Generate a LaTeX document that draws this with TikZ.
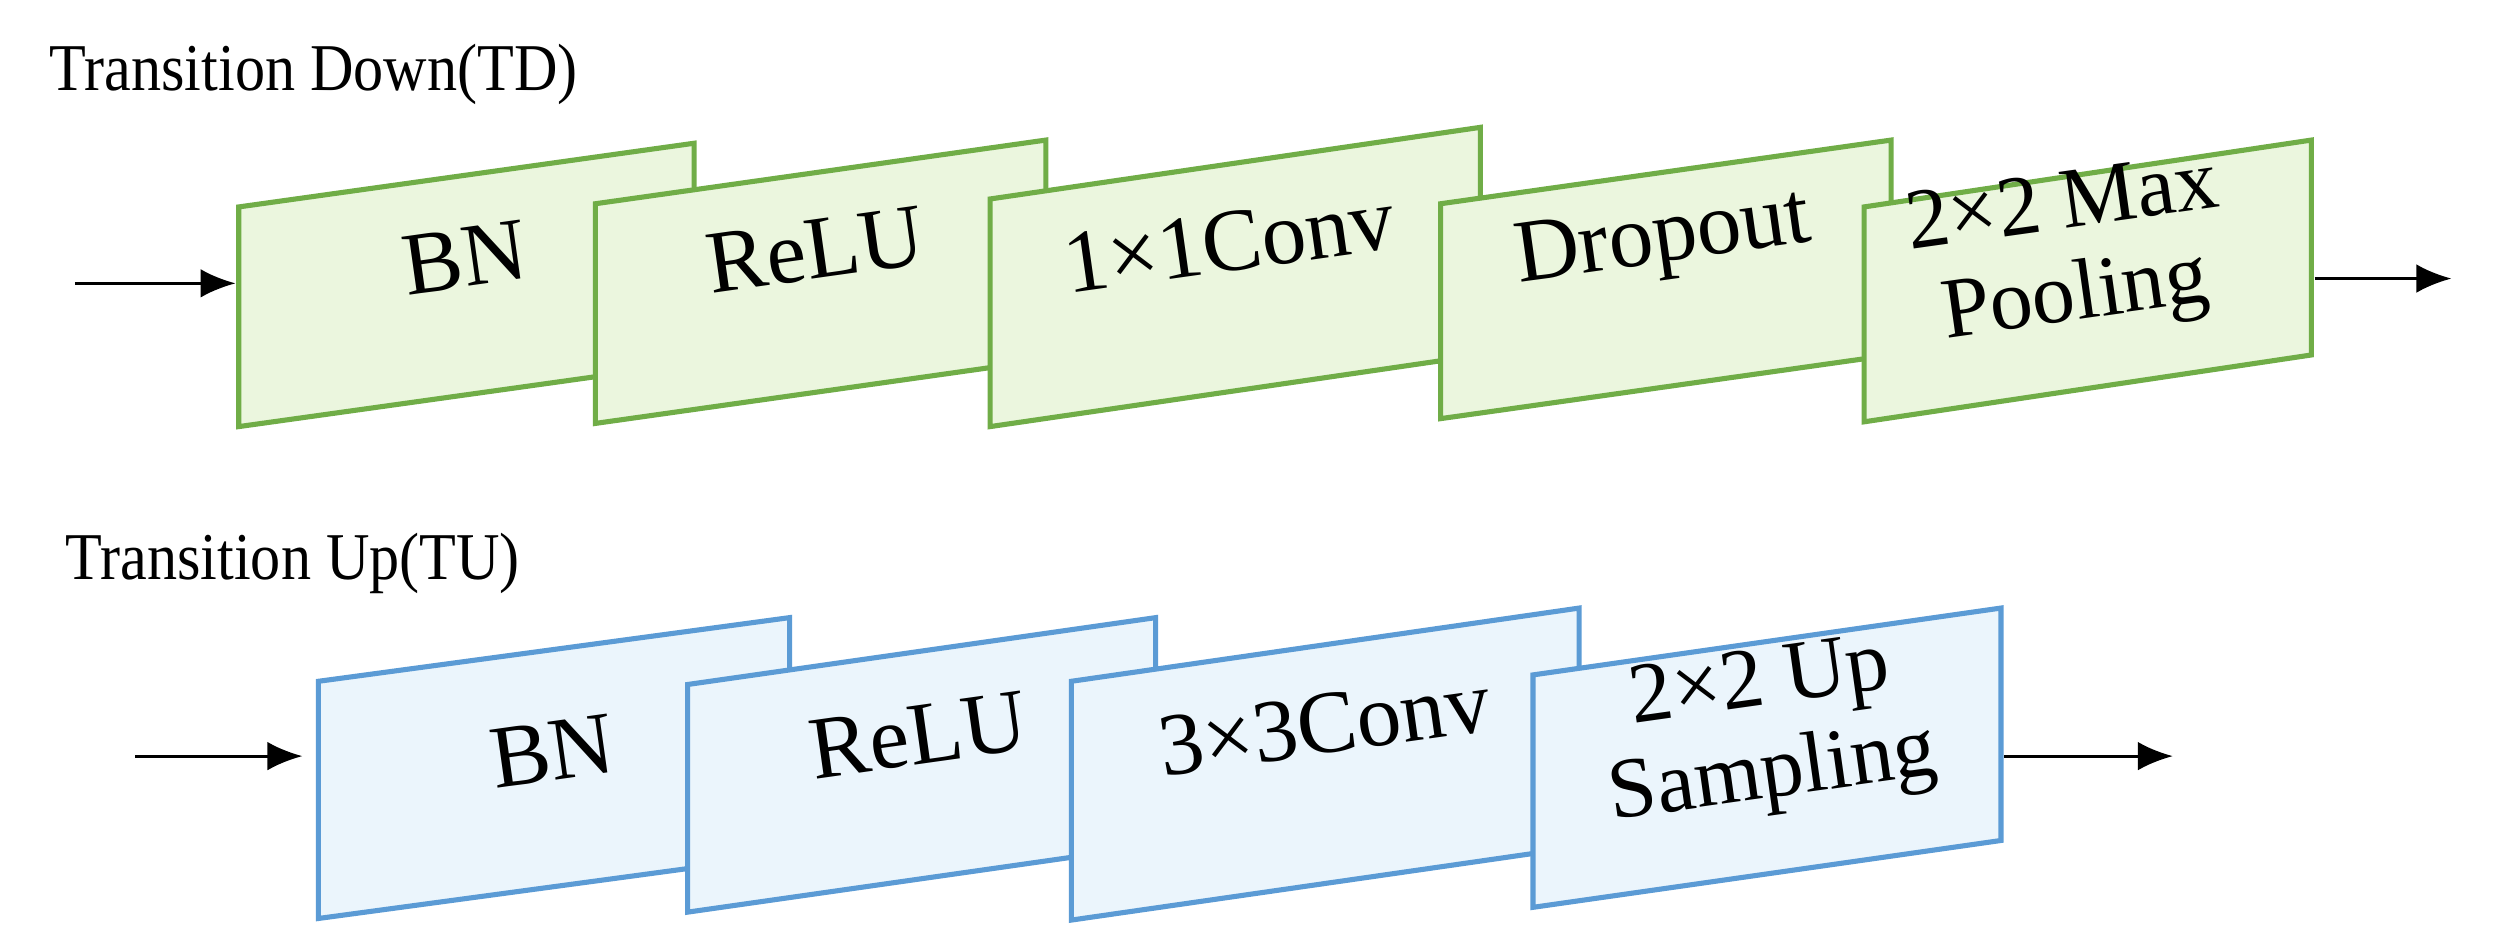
\documentclass[tikz,border=0pt]{standalone}
\usepackage{fontspec}
\setmainfont{Liberation Serif}
\usetikzlibrary{arrows.meta}
\begin{document}
\begin{tikzpicture}[x=0.5pt,y=-0.5pt,
  gbox/.style={draw={rgb,255:red,112;green,173;blue,71}, fill={rgb,255:red,235;green,246;blue,222}, line width=1.6pt},
  bbox/.style={draw={rgb,255:red,91;green,155;blue,213}, fill={rgb,255:red,235;green,245;blue,252}, line width=1.6pt},
  lbl/.style={font=\fontsize{28}{30}\selectfont, rotate=8, align=center, inner sep=0pt},
  ttl/.style={font=\fontsize{21}{24}\selectfont, anchor=base west, xscale=0.9},
  arr/.style={-{Latex[length=11pt,width=9pt]}, line width=1pt}]
\useasboundingbox (0,0) rectangle (1568,597);
\node[ttl] (t1) at (25,57) {Transition Down(TD)};
\node[ttl] (t2) at (35,364) {Transition Up(TU)};
\foreach \n/\a/\b/\y/\r/\h in {d1/150/436/130/40/138, d2/374/657/128/40/138, d3/622/930/125/45/143, d4/905/1188/128/40/135, d5/1171/1452/130/42/135}{
  \draw[gbox] (\a,\y) -- (\b,\y-\r) -- (\b,\y-\r+\h) -- (\a,\y+\h) -- cycle;
}
\node[lbl] (ld1) at (292,162) {BN};
\node[lbl] (ld2) at (512,157) {ReLU};
\node[lbl] (ld3) at (772,152) {1×1Conv};
\node[lbl] (ld4) at (1045,152) {Dropout};
\node[lbl,font=\fontsize{27}{29}\selectfont] (ld5) at (1300,160) {2×2 Max\\Pooling};
\coordinate (din) at (47,178);
\coordinate (dout) at (1540,175);
\draw[arr] (din) -- (148,178);
\draw[arr] (1454,175) -- (dout);
\foreach \n/\a/\b/\y/\r/\h in {u1/200/496/428/40/149, u2/432/726/430/42/143, u3/673/992/428/46/150, u4/963/1257/424/42/146}{
  \draw[bbox] (\a,\y) -- (\b,\y-\r) -- (\b,\y-\r+\h) -- (\a,\y+\h) -- cycle;
}
\node[lbl] (lu1) at (347,472) {BN};
\node[lbl] (lu2) at (577,462) {ReLU};
\node[lbl] (lu3) at (832,455) {3×3Conv};
\node[lbl,font=\fontsize{27}{29}\selectfont] (lu4) at (1110,460) {2×2 Up\\Sampling};
\coordinate (uin) at (85,475);
\coordinate (uout) at (1365,475);
\draw[arr] (uin) -- (190,475);
\draw[arr] (1259,475) -- (uout);
\end{tikzpicture}
\end{document}
